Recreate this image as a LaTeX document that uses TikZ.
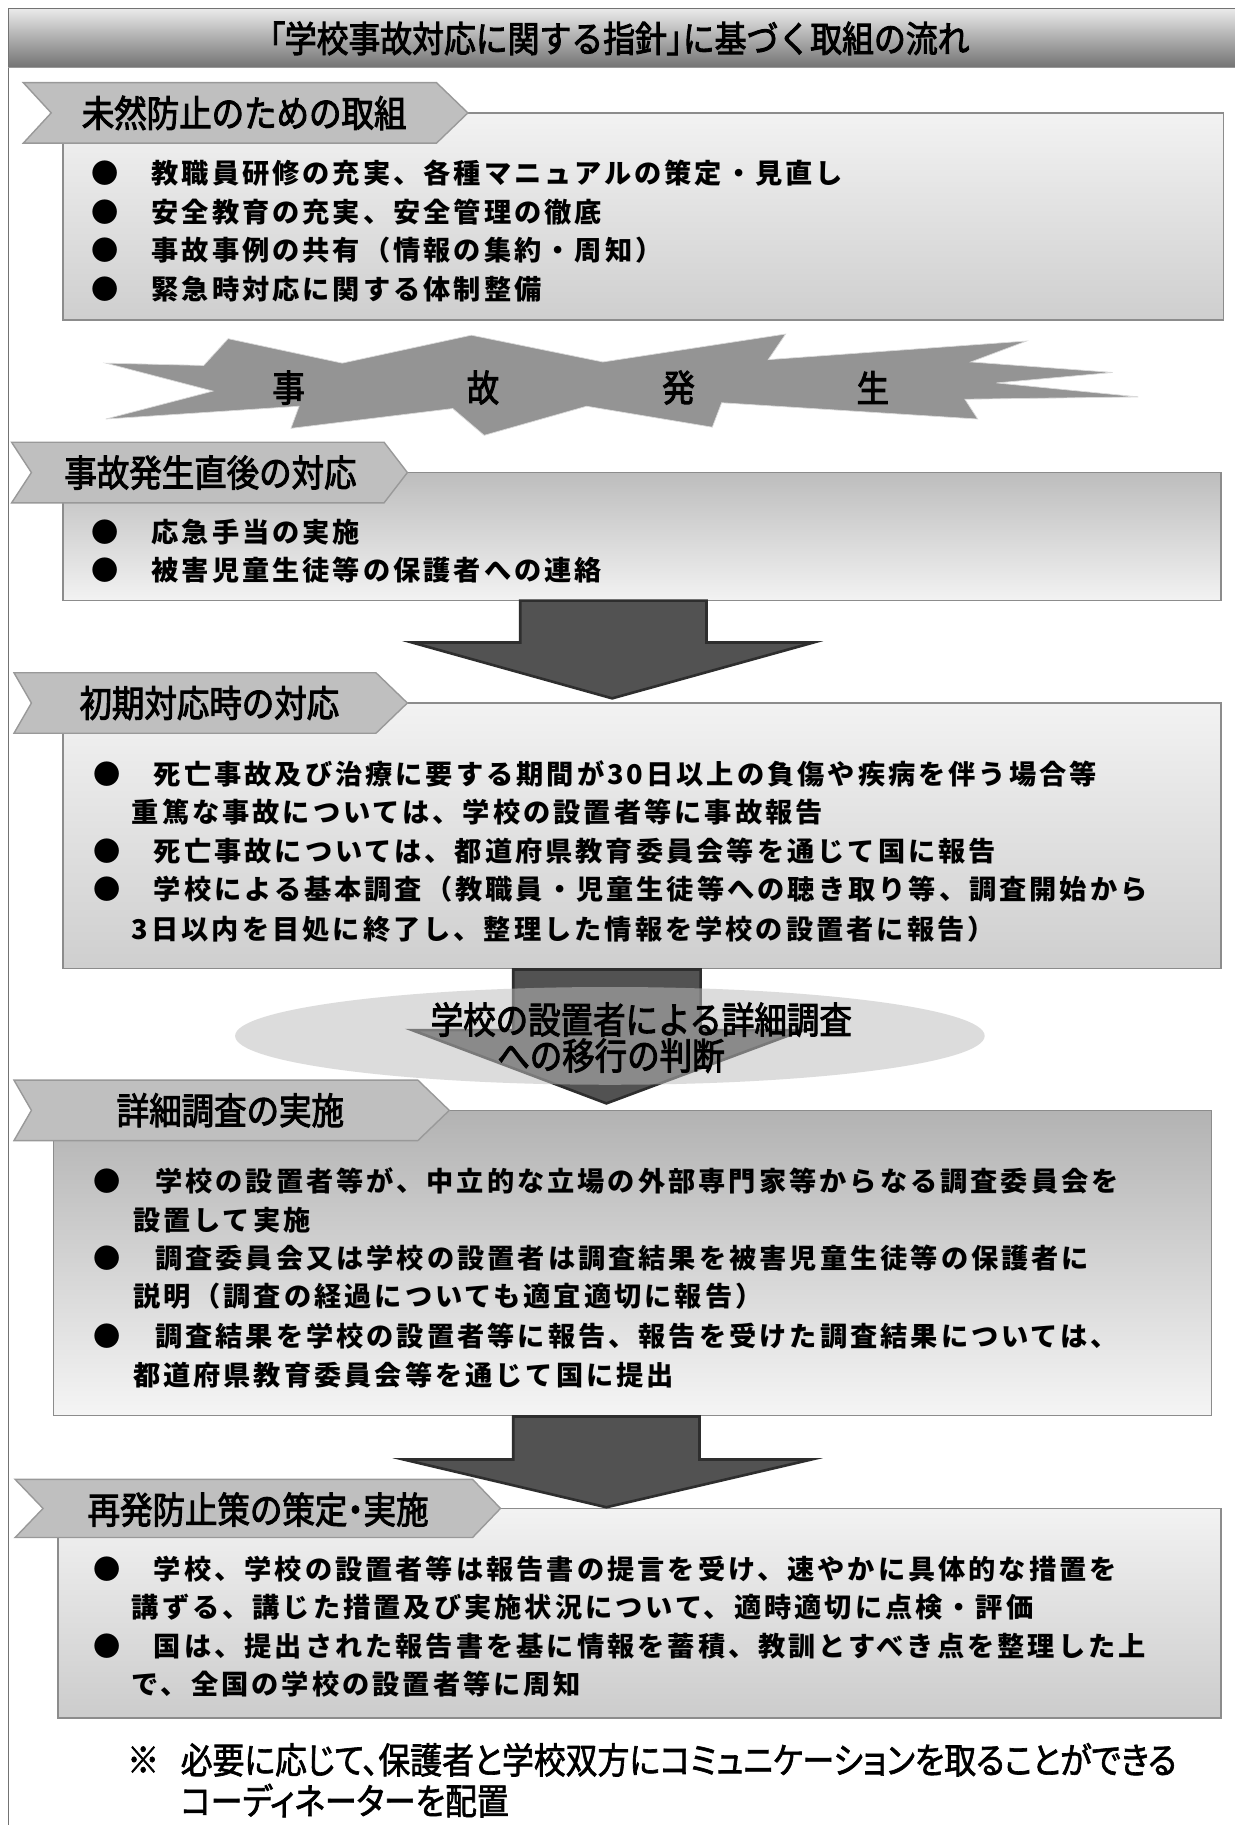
\documentclass[tikz,border=0pt]{standalone}
\usepackage{fontspec}
\newfontfamily\bodyfont[LetterSpace=11]{Noto Sans CJK JP}
\newfontfamily\headfont[FakeStretch=0.88,FakeBold=2.6]{Noto Sans CJK JP}
\newfontfamily\notefont[FakeStretch=0.88,FakeBold=1.8,RawFeature=+palt]{Noto Sans CJK JP}
\newcommand\narrowmark[1]{{\addfontfeature{RawFeature=+palt}#1}}

\tikzset{
  body/.style={anchor=west, inner sep=0pt, font=\bodyfont\bfseries\fontsize{15.5}{18}\selectfont},
  dot/.style={inner sep=0pt, font=\bodyfont\bfseries\fontsize{15.5}{18}\selectfont},
  headtxt/.style={anchor=west, inner sep=0pt, font=\headfont\fontsize{21}{23}\selectfont},
  tab/.style={fill=black!25, draw=black!40, line width=0.8pt},
  panel/.style={draw=black!45, line width=0.8pt},
  blockarrow/.style={fill=black!68, draw=black!82, line width=1.5pt, line join=miter},
  bursttxt/.style={inner sep=0pt, font=\headfont\fontsize{21}{23}\selectfont},
  judgetxt/.style={inner sep=0pt, font=\headfont\fontsize{21}{23}\selectfont},
  notetxt/.style={anchor=west, inner sep=0pt, font=\notefont\fontsize{20.6}{22}\selectfont}
}

\begin{document}
\begin{tikzpicture}[x=0.02328cm, y=-0.02328cm]
    \useasboundingbox (0,0) rectangle (1061,1568);
    \fill[white] (0,0) rectangle (1061,1568);

    % title band
    \shade[top color=black!8, bottom color=black!55] (7,7) rectangle (1061,58);
    \draw[black!55] (1061,7) -- (7,7) -- (7,1568);
    \draw[black!40] (7,58) -- (1061,58);
    \node[font=\headfont\fontsize{20.6}{22}\selectfont, inner sep=0pt] (title) at (532,33)
        {\narrowmark{「}学校事故対応に関する指針\narrowmark{」}に基づく取組の流れ};

    % panels
    \shade[panel, top color=black!5, bottom color=black!19] (54,97) rectangle (1051,275);
    \shade[panel, top color=black!26, bottom color=black!5] (54,406) rectangle (1049,516);
    \shade[panel, top color=black!5, bottom color=black!19] (54,604) rectangle (1049,832);
    \shade[panel, top color=black!30, bottom color=black!4] (46,954) rectangle (1041,1216);
    \shade[panel, top color=black!5, bottom color=black!20] (50,1296) rectangle (1049,1476);

    % tabs
    \draw[tab] (20,71) -- (375,71) -- (402,97) -- (375,123) -- (20,123) -- (44,97) -- cycle;
    \draw[tab] (10,380) -- (330,380) -- (350,406) -- (330,432) -- (10,432) -- (27,406) -- cycle;
    \draw[tab] (12,578) -- (323,578) -- (350,604) -- (323,630) -- (12,630) -- (27,604) -- cycle;
    \draw[tab] (12,928) -- (359,928) -- (386,954) -- (359,980) -- (12,980) -- (27,954) -- cycle;
    \draw[tab] (13,1271) -- (406,1271) -- (430,1296) -- (406,1321) -- (13,1321) -- (37,1296) -- cycle;

    \node[headtxt] (h1) at (70,97) {未然防止のための取組};
    \node[headtxt] (h2) at (55,406) {事故発生直後の対応};
    \node[headtxt] (h3) at (68,604) {初期対応時の対応};
    \node[headtxt] (h4) at (100,954) {詳細調査の実施};
    \node[headtxt] (h5) at (75,1297) {再発防止策の策定\narrowmark{・}実施};

    % burst
    \shade[top color=black!42, middle color=white, bottom color=black!42, draw=black!15]
        (91,312) -- (175,314) -- (196,291) -- (294,312) -- (405,288) -- (518,311)
        -- (675,287) -- (660,309) -- (882,293) -- (834,311) -- (956,320) -- (856,329)
        -- (978,341) -- (829,343) -- (840,360) -- (620,346) -- (612,367) -- (504,349)
        -- (416,374) -- (389,351) -- (250,368) -- (257,349) -- (91,360) -- (183,336) -- cycle;
    \node[bursttxt] (k1) at (248,333) {事};
    \node[bursttxt] (k2) at (415,333) {故};
    \node[bursttxt] (k3) at (583,333) {発};
    \node[bursttxt] (k4) at (750,333) {生};

    % block arrows
    \filldraw[blockarrow] (447,516) -- (607,516) -- (607,552) -- (699,552) -- (526,600)
        -- (354,552) -- (447,552) -- cycle;
    \filldraw[blockarrow] (441,833) -- (602,833) -- (602,885) -- (690,885) -- (521,948)
        -- (354,885) -- (441,885) -- cycle;
    \filldraw[blockarrow] (441,1217) -- (601,1217) -- (601,1254) -- (697,1254) -- (521,1295)
        -- (347,1254) -- (441,1254) -- cycle;

    % judgement ellipse
    \fill[black!26, fill opacity=0.53] (524,890) ellipse (322 and 42);
    \node[judgetxt] (j1) at (551,876) {学校の設置者による詳細調査};
    \node[judgetxt, anchor=west] (j2) at (427,907) {への移行の判断};

    % panel 1
    \node[dot] (d1a) at (90,149) {●};
    \node[body] (t1a) at (130,149) {教職員研修の充実、各種マニュアルの策定・見直し};
    \node[dot] (d1b) at (90,182) {●};
    \node[body] (t1b) at (130,182) {安全教育の充実、安全管理の徹底};
    \node[dot] (d1c) at (90,215) {●};
    \node[body] (t1c) at (130,215) {事故事例の共有（情報の集約・周知）};
    \node[dot] (d1d) at (90,248) {●};
    \node[body] (t1d) at (130,248) {緊急時対応に関する体制整備};

    % panel 2
    \node[dot] (d2a) at (90,457) {●};
    \node[body] (t2a) at (130,457) {応急手当の実施};
    \node[dot] (d2b) at (90,490) {●};
    \node[body] (t2b) at (130,490) {被害児童生徒等の保護者への連絡};

    % panel 3
    \node[dot] (d3a) at (92,665) {●};
    \node[body] (t3a) at (132,665) {死亡事故及び治療に要する期間が30日以上の負傷や疾病を伴う場合等};
    \node[body] (t3b) at (113,698) {重篤な事故については、学校の設置者等に事故報告};
    \node[dot] (d3c) at (92,731) {●};
    \node[body] (t3c) at (132,731) {死亡事故については、都道府県教育委員会等を通じて国に報告};
    \node[dot] (d3d) at (92,764) {●};
    \node[body] (t3d) at (132,764) {学校による基本調査（教職員・児童生徒等への聴き取り等、調査開始から};
    \node[body] (t3e) at (113,798) {3日以内を目処に終了し、整理した情報を学校の設置者に報告）};

    % panel 4
    \node[dot] (d4a) at (92,1015) {●};
    \node[body] (t4a) at (133,1015) {学校の設置者等が、中立的な立場の外部専門家等からなる調査委員会を};
    \node[body] (t4b) at (114,1048) {設置して実施};
    \node[dot] (d4c) at (92,1081) {●};
    \node[body] (t4c) at (133,1081) {調査委員会又は学校の設置者は調査結果を被害児童生徒等の保護者に};
    \node[body] (t4d) at (114,1114) {説明（調査の経過についても適宜適切に報告）};
    \node[dot] (d4e) at (92,1148) {●};
    \node[body] (t4e) at (133,1148) {調査結果を学校の設置者等に報告、報告を受けた調査結果については、};
    \node[body] (t4f) at (114,1181) {都道府県教育委員会等を通じて国に提出};

    % panel 5
    \node[dot] (d5a) at (92,1348) {●};
    \node[body] (t5a) at (132,1348) {学校、学校の設置者等は報告書の提言を受け、速やかに具体的な措置を};
    \node[body] (t5b) at (113,1381) {講ずる、講じた措置及び実施状況について、適時適切に点検・評価};
    \node[dot] (d5c) at (92,1414) {●};
    \node[body] (t5c) at (132,1414) {国は、提出された報告書を基に情報を蓄積、教訓とすべき点を整理した上};
    \node[body] (t5d) at (113,1447) {で、全国の学校の設置者等に周知};

    % note
    \node[notetxt, anchor=center] (n0) at (123,1512) {※};
    \node[notetxt] (n1) at (155,1512) {必要に応じて、保護者と学校双方にコミュニケーションを取ることができる};
    \node[notetxt] (n2) at (155,1547) {コーディネーターを配置};
\end{tikzpicture}
\end{document}
